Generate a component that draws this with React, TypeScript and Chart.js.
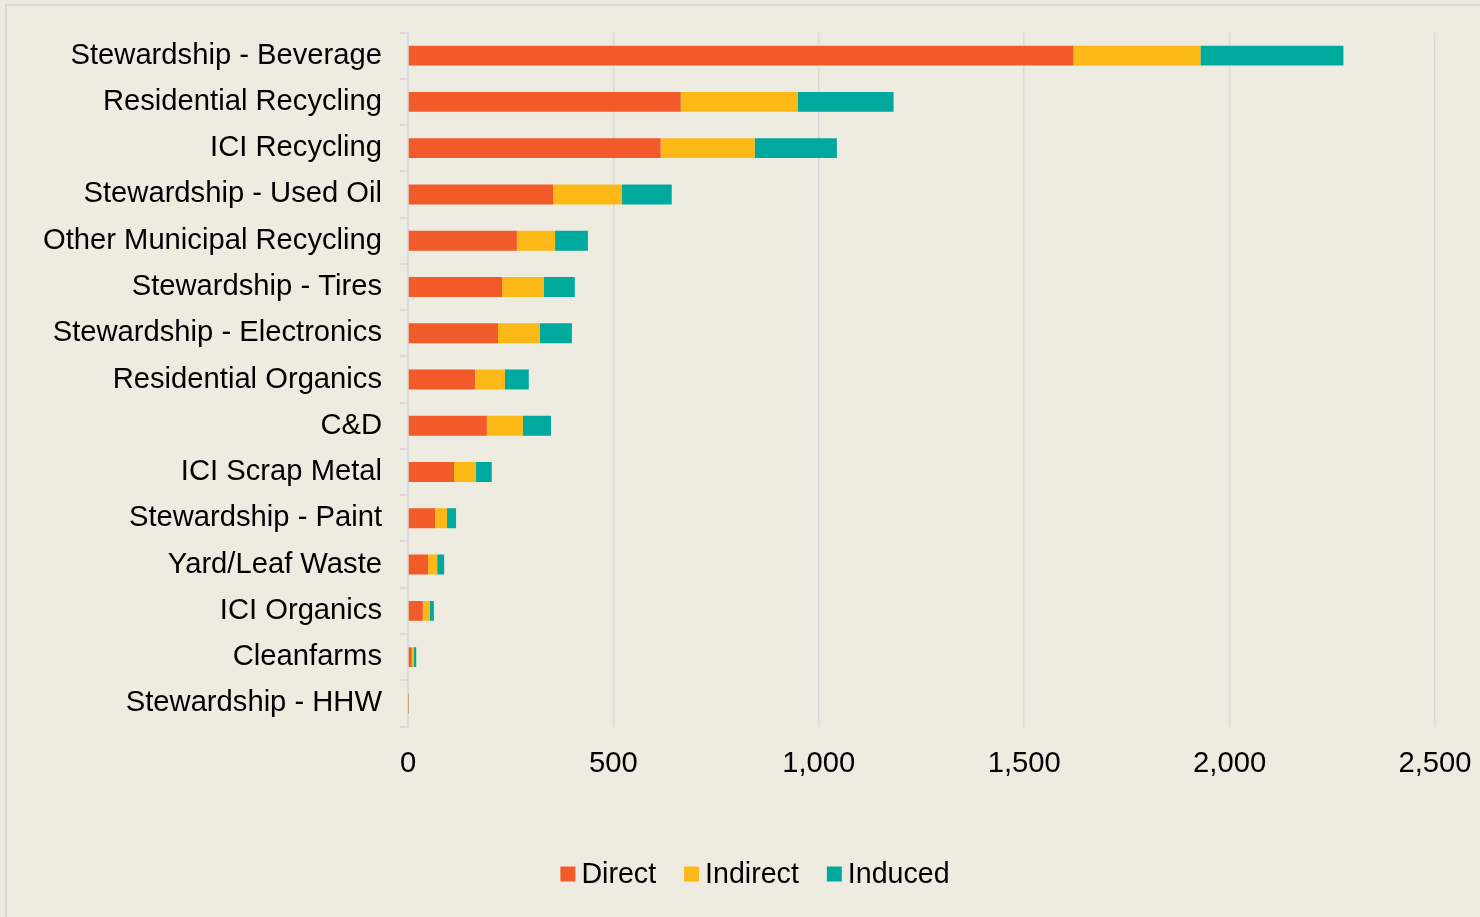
import React, { useEffect, useRef } from "react";
import { Chart, registerables } from "chart.js";

Chart.register(...registerables);

const categories = [
  "Stewardship - Beverage",
  "Residential Recycling",
  "ICI Recycling",
  "Stewardship - Used Oil",
  "Other Municipal Recycling",
  "Stewardship - Tires",
  "Stewardship - Electronics",
  "Residential Organics",
  "C&D",
  "ICI Scrap Metal",
  "Stewardship - Paint",
  "Yard/Leaf Waste",
  "ICI Organics",
  "Cleanfarms",
  "Stewardship - HHW",
];
const directValues = [1620, 664, 615, 353, 265, 229, 219, 163, 192, 112, 66, 49, 36, 9, 1];
const indirectValues = [309, 285, 229, 168, 93, 102, 102, 73, 88, 53, 29, 22, 17, 5, 0.5];
const inducedValues = [348, 233, 200, 121, 80, 75, 78, 58, 68, 39, 22, 17, 10, 6, 0.5];
const seriesNames = ["Direct", "Indirect", "Induced"];
const seriesColors = ["#F15A29", "#FBB817", "#00A99D"];
const xMax = 2500;
const xStep = 500;

const FONT = "'Liberation Sans', Arial, sans-serif";
const AXIS_FONT_SIZE = 29.2;
const LEGEND_FONT_SIZE = 28.6;
const BG = "#EEECE1";
const GRID = "#D9D9D9";

const legendPlugin = {
  id: "customLegend",
  afterDraw(chart: any) {
    const ctx = chart.ctx;
    ctx.save();
    ctx.font = `${LEGEND_FONT_SIZE}px ${FONT}`;
    const box = 15;
    const gap = 6;
    const spacing = 28;
    const items = chart.data.datasets.map((ds: any) => ({
      label: ds.label,
      color: ds.backgroundColor,
      w: ctx.measureText(ds.label).width,
    }));
    const total =
      items.reduce((s: number, it: any) => s + box + gap + it.w, 0) +
      spacing * (items.length - 1);
    let x = 755 - total / 2;
    const y = 874;
    ctx.textBaseline = "middle";
    ctx.textAlign = "left";
    for (const it of items) {
      ctx.fillStyle = it.color;
      ctx.fillRect(x, y - box / 2, box, box);
      ctx.fillStyle = "#000";
      ctx.fillText(it.label, x + box + gap, y + 1);
      x += box + gap + it.w + spacing;
    }
    ctx.restore();
  },
};

export default function App() {
  const ref = useRef<HTMLCanvasElement | null>(null);
  useEffect(() => {
    if (!ref.current) return;
    const values = [directValues, indirectValues, inducedValues];
    const chart = new Chart(ref.current, {
      type: "bar",
      data: {
        labels: categories,
        datasets: seriesNames.map((name, i) => ({
          label: name,
          data: values[i],
          backgroundColor: seriesColors[i],
          borderWidth: 0,
          barPercentage: 0.43,
          categoryPercentage: 1,
        })),
      },
      options: {
        indexAxis: "y",
        responsive: false,
        animation: false,
        events: [],
        layout: { padding: { top: 32.5, right: 45, bottom: 130.5, left: 0 } },
        plugins: {
          legend: { display: false },
          tooltip: { enabled: false },
        },
        scales: {
          x: {
            stacked: true,
            min: 0,
            max: xMax,
            ticks: {
              stepSize: xStep,
              padding: 20,
              color: "#000",
              font: { family: FONT, size: AXIS_FONT_SIZE },
              callback: (v: any) => Number(v).toLocaleString("en-US"),
            },
            grid: { color: GRID, lineWidth: 1.5, drawTicks: false },
            border: { display: false },
            afterFit: (s: any) => {
              s.height = 60;
              s.paddingLeft = 0;
              s.paddingRight = 0;
            },
          },
          y: {
            stacked: true,
            ticks: {
              padding: 18,
              color: "#000",
              font: { family: FONT, size: AXIS_FONT_SIZE },
              autoSkip: false,
            },
            grid: {
              color: GRID,
              lineWidth: 2,
              drawOnChartArea: false,
              drawTicks: true,
              tickLength: 8,
            },
            border: { display: true, color: GRID, width: 2 },
            afterFit: (s: any) => {
              s.width = 408;
              s.paddingTop = 0;
              s.paddingBottom = 0;
            },
          },
        },
      },
      plugins: [legendPlugin],
    });
    return () => chart.destroy();
  }, []);

  return (
    <div
      style={{
        position: "fixed",
        left: 0,
        top: 0,
        width: 1480,
        height: 917,
        background: BG,
        overflow: "hidden",
      }}
    >
      <div
        style={{
          position: "absolute",
          left: 5,
          top: 4,
          width: 1600,
          height: 1000,
          border: `2px solid ${GRID}`,
          boxSizing: "border-box",
        }}
      />
      <canvas
        ref={ref}
        width={1480}
        height={917}
        style={{ position: "absolute", left: 0, top: 0, width: 1480, height: 917 }}
      />
    </div>
  );
}
